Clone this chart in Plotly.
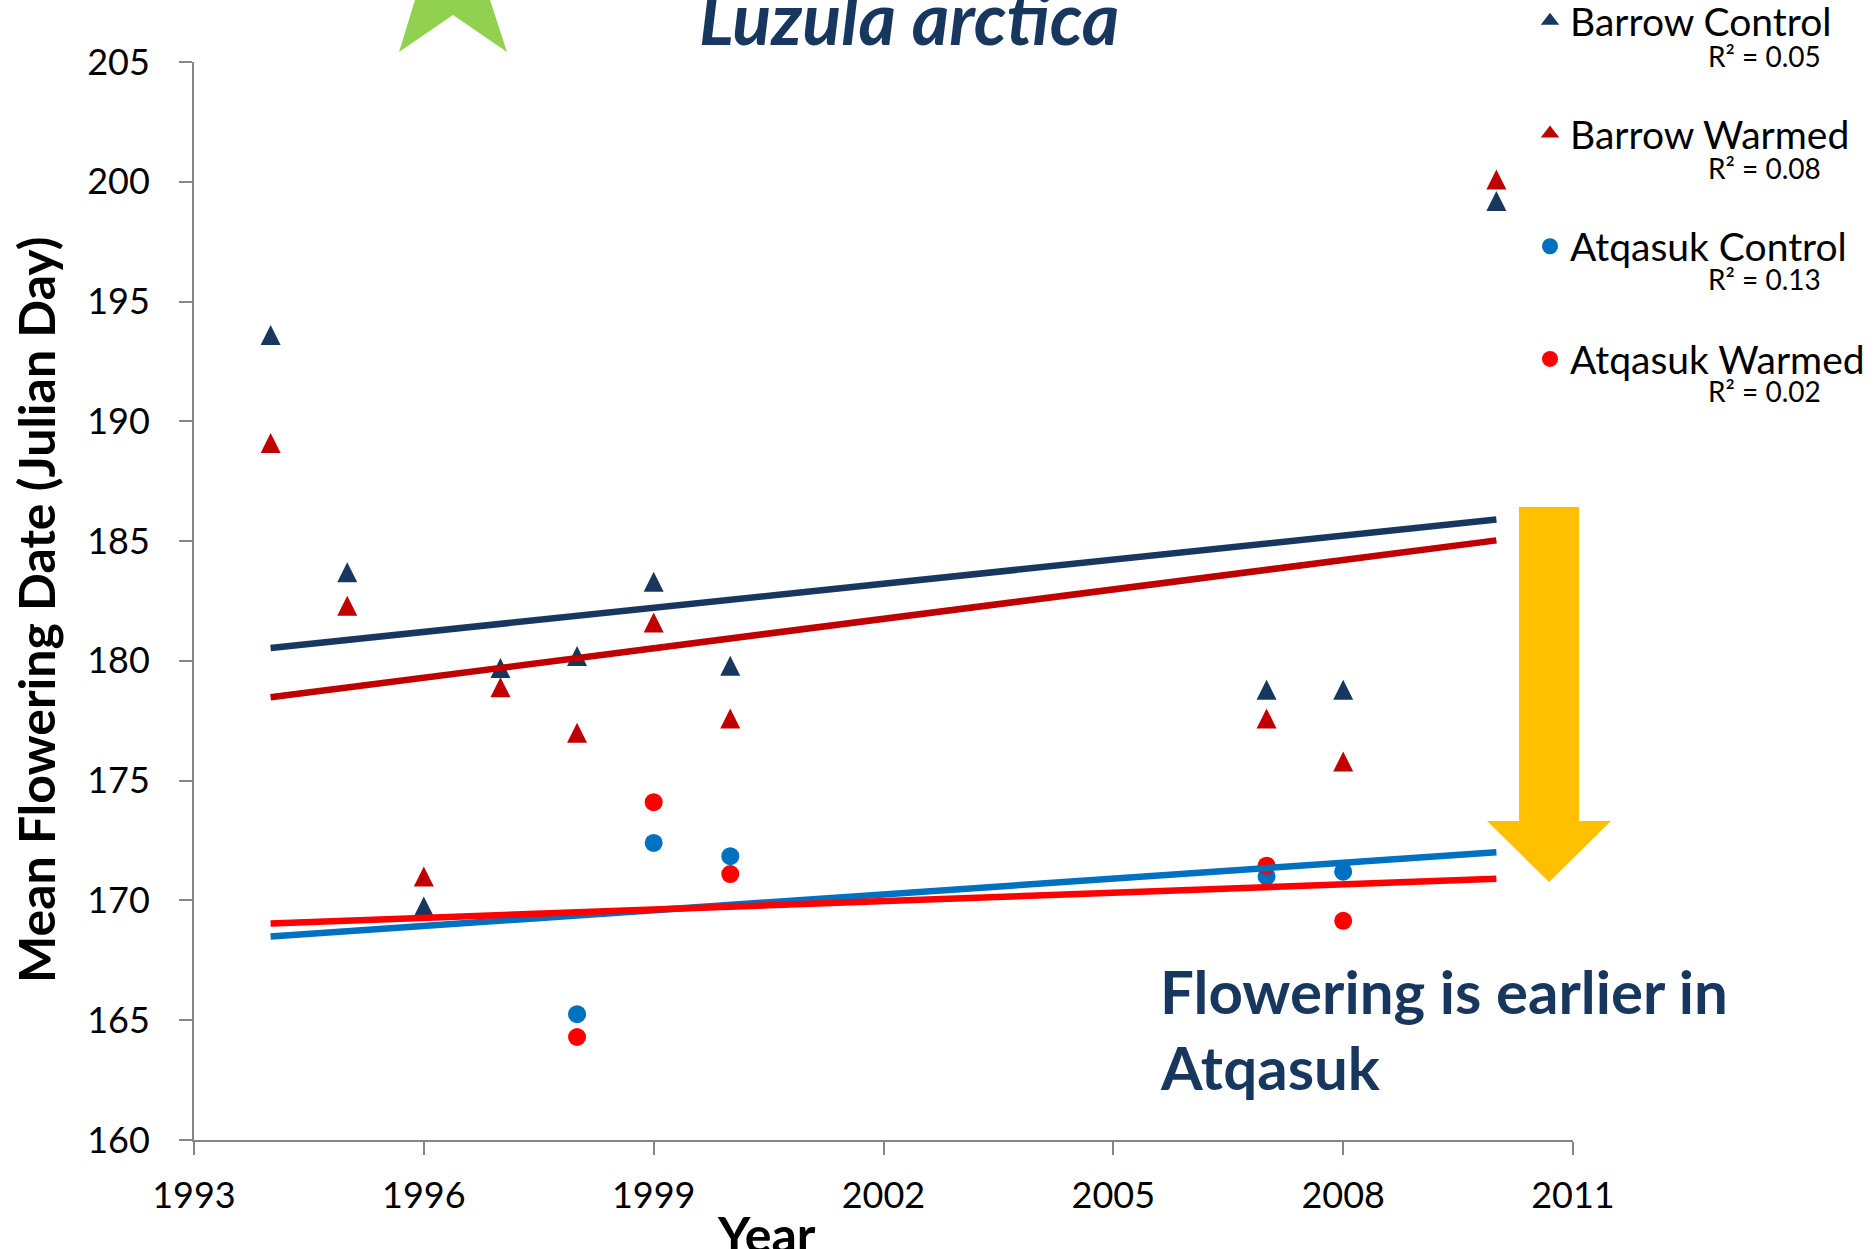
import numpy as np
import plotly.graph_objects as go

# ---------------- data ----------------
years_barrow = [1994, 1995, 1996, 1997, 1998, 1999, 2000, 2007, 2008, 2010]
barrow_control = [193.6, 183.7, 169.75, 179.7, 180.2, 183.3, 179.8, 178.8, 178.8, 199.2]
barrow_warmed = [189.1, 182.3, 171.0, 178.9, 177.0, 181.6, 177.6, 177.6, 175.8, 200.1]
years_atqasuk = [1998, 1999, 2000, 2007, 2008]
atqasuk_control = [165.25, 172.4, 171.85, 171.0, 171.2]
atqasuk_warmed = [164.3, 174.1, 171.1, 171.45, 169.15]

series_names = ["Barrow Control", "Barrow Warmed", "Atqasuk Control", "Atqasuk Warmed"]
r2_labels = ["R\u00b2 = 0.05", "R\u00b2 = 0.08", "R\u00b2 = 0.13", "R\u00b2 = 0.02"]
x_ticks = [1993, 1996, 1999, 2002, 2005, 2008, 2011]
y_ticks = [160, 165, 170, 175, 180, 185, 190, 195, 200, 205]

title_text = "Luzula arctica"
x_title = "Year"
y_title = "Mean Flowering Date (Julian Day)"
note_lines = ["Flowering is earlier in", "Atqasuk"]

# ---------------- styles ----------------
NAVY = "#17375E"
DARKRED = "#C00000"
BLUE = "#0070C0"
RED = "#FF0000"
YELLOW = "#FFC000"
GREEN = "#92D050"
AXIS_GRAY = "#868686"
FONT = "Lato"

W, H = 1876, 1249
ML, MR, MT, MB = 194, 303, 62, 109
PW, PH = W - ML - MR, H - MT - MB


def px2x(x):
    return (x - ML) / PW


def px2y(y):
    return (H - MB - y) / PH


series = [
    (years_barrow, barrow_control, NAVY, "triangle"),
    (years_barrow, barrow_warmed, DARKRED, "triangle"),
    (years_atqasuk, atqasuk_control, BLUE, "circle"),
    (years_atqasuk, atqasuk_warmed, RED, "circle"),
]

fig = go.Figure()

# data markers (triangles drawn as centred, equal width/height isosceles triangles)
for i, (xs, ys, col, kind) in enumerate(series):
    if kind == "triangle":
        marker = dict(symbol="arrow-down", angle=180, standoff=10, size=20, color=col,
                      line=dict(width=0))
    else:
        marker = dict(symbol="circle", size=18, color=col, line=dict(width=0))
    fig.add_trace(go.Scatter(
        x=xs, y=ys, mode="markers", name=series_names[i], marker=marker,
        showlegend=False,
    ))

# linear trendlines (least squares), spanning the full period of record
span = np.array([min(years_barrow), max(years_barrow)], dtype=float)
for i, (xs, ys, col, kind) in enumerate(series):
    slope, intercept = np.polyfit(xs, ys, 1)
    fig.add_trace(go.Scatter(
        x=span, y=slope * span + intercept, mode="lines",
        line=dict(color=col, width=6.5), showlegend=False, hoverinfo="skip",
    ))

# legend entries
for i, (xs, ys, col, kind) in enumerate(series):
    sym = "triangle-up" if kind == "triangle" else "circle"
    fig.add_trace(go.Scatter(
        x=[None], y=[None], mode="markers", name=series_names[i],
        marker=dict(symbol=sym, size=16, color=col, line=dict(width=0)),
        legendgroup=f"g{i}", showlegend=True,
    ))

# decorative shapes: yellow arrow and partial green star
arrow_pts = [(1519, 507), (1579, 507), (1579, 821), (1611, 821), (1549, 882), (1487, 821), (1519, 821)]
star_pts = [(415, 0), (399, 52), (453, 15), (507, 52), (490, 0)]


def poly_path(pts):
    return "M " + " L ".join(f"{px2x(x):.5f},{px2y(y):.5f}" for x, y in pts) + " Z"


fig.add_shape(type="path", path=poly_path(arrow_pts), xref="paper", yref="paper",
              fillcolor=YELLOW, line=dict(width=0), layer="above")
fig.add_shape(type="path", path=poly_path(star_pts), xref="paper", yref="paper",
              fillcolor=GREEN, line=dict(width=0), layer="above")

annotations = []
# title
annotations.append(dict(text=f"<b><i>{title_text}</i></b>", x=px2x(909), y=px2y(17),
                        xref="paper", yref="paper", xanchor="center", yanchor="middle",
                        showarrow=False, font=dict(family=FONT, size=72, color=NAVY)))
# note
annotations.append(dict(text=f"<b>{note_lines[0]}</b>", x=px2x(1158), y=px2y(991),
                        xref="paper", yref="paper", xanchor="left", yanchor="middle",
                        showarrow=False, font=dict(family=FONT, size=60, color=NAVY)))
annotations.append(dict(text=f"<b>{note_lines[1]}</b>", x=px2x(1158), y=px2y(1067),
                        xref="paper", yref="paper", xanchor="left", yanchor="middle",
                        showarrow=False, font=dict(family=FONT, size=60, color=NAVY)))
# axis titles
annotations.append(dict(text=f"<b>{y_title}</b>", x=px2x(36), y=px2y(610), textangle=-90,
                        xref="paper", yref="paper", xanchor="center", yanchor="middle",
                        showarrow=False, font=dict(family=FONT, size=50, color="black")))
annotations.append(dict(text=f"<b>{x_title}</b>", x=px2x(766), y=px2y(1234),
                        xref="paper", yref="paper", xanchor="center", yanchor="middle",
                        showarrow=False, font=dict(family=FONT, size=50, color="black")))
# R^2 labels under legend entries
r2_y = [56, 168, 279, 391]
for lab, yy in zip(r2_labels, r2_y):
    annotations.append(dict(text=lab, x=px2x(1823), y=px2y(yy), xref="paper", yref="paper",
                            xanchor="right", yanchor="middle", showarrow=False,
                            font=dict(family=FONT, size=28, color="black")))

fig.update_layout(
    width=W, height=H, autosize=False,
    margin=dict(l=ML, r=MR, t=MT, b=MB, autoexpand=False),
    paper_bgcolor="white", plot_bgcolor="white",
    font=dict(family=FONT, color="black"),
    showlegend=True,
    legend=dict(x=px2x(1530), y=px2y(-11), xanchor="left", yanchor="top",
                font=dict(family=FONT, size=39, color="black"),
                bgcolor="rgba(0,0,0,0)", traceorder="grouped", tracegroupgap=59,
                itemwidth=30),
    annotations=annotations,
    xaxis=dict(range=[x_ticks[0], x_ticks[-1]], tickvals=x_ticks, ticktext=[str(v) for v in x_ticks],
               showgrid=False, zeroline=False, showline=True, linecolor=AXIS_GRAY, linewidth=2,
               ticks="outside", ticklen=13, tickwidth=2, tickcolor=AXIS_GRAY,
               tickfont=dict(family=FONT, size=36, color="black"), ticklabelstandoff=10),
    yaxis=dict(range=[y_ticks[0], y_ticks[-1]], tickvals=y_ticks, ticktext=[str(v) for v in y_ticks],
               showgrid=False, zeroline=False, showline=True, linecolor=AXIS_GRAY, linewidth=2,
               ticks="outside", ticklen=13, tickwidth=2, tickcolor=AXIS_GRAY,
               tickfont=dict(family=FONT, size=36, color="black"), ticklabelstandoff=22),
)

fig.write_html("out.html", config={"displayModeBar": False},
               post_script="document.body.style.margin='0';document.body.style.overflow='hidden';")
